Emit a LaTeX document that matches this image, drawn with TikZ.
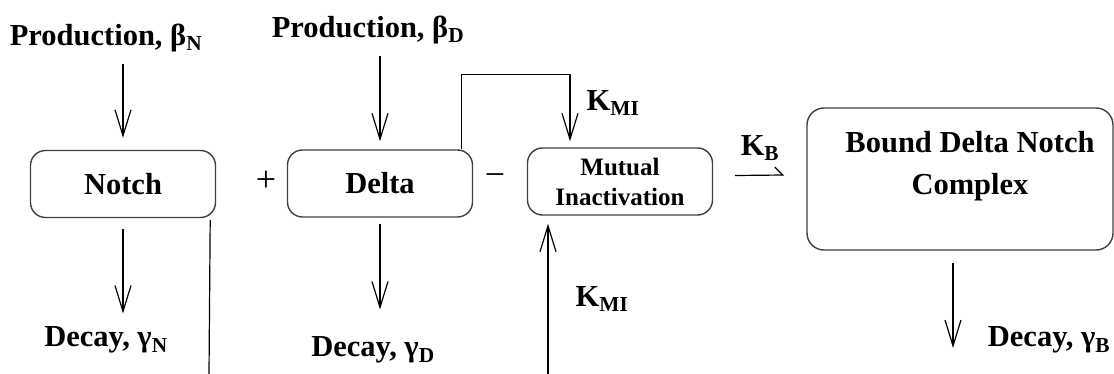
\documentclass[tikz,border=0pt]{standalone}
\usepackage{fontspec}
\setmainfont{Liberation Serif}
\usetikzlibrary{arrows.meta,calc}
\newcommand{\kmi}{K\textsubscript{MI}}

\begin{document}
\begin{tikzpicture}[x=1pt,y=-1pt]
                        \tikzstyle{lbl}=[inner sep=0pt, font=\fontsize{30.5}{42}\selectfont\bfseries]
                        \tikzstyle{sign}=[inner sep=0pt, font=\fontsize{36}{40}\selectfont]
                        \tikzstyle{box}=[draw=black!75, line width=1.4pt, rounded corners=15pt, minimum width=185pt, minimum height=67pt, inner sep=0pt, font=\fontsize{30.5}{42}\selectfont\bfseries]
                        \tikzstyle{arr}=[line width=1.2pt, -{Straight Barb[length=26pt,width=16pt]}]
                        \tikzstyle{harp}=[line width=1.2pt, -{Straight Barb[harpoon,length=8pt,width=16pt]}]
                        \tikzstyle{wire}=[line width=1.2pt]
                        \useasboundingbox (0,0) rectangle (1114,374);
                        \node[box] (notch) at (123,184) {Notch};
                        \node[box] (delta) at (380,183.5) {Delta};
                        \node[box, align=center, font=\fontsize{25}{30}\selectfont\bfseries] (mi) at (620,181.5) {Mutual\\Inactivation};
                        \node[box, minimum width=306pt, minimum height=142pt, rounded corners=17pt] (bound) at (960,179) {};
                        \node[lbl, align=center] (boundtxt) at (970,166) {Bound Delta Notch\\Complex};
                        \node[lbl] (prodN) at (106,38) {Production, β\textsubscript{N}};
                        \node[lbl] (prodD) at (368,30) {Production, β\textsubscript{D}};
                        \node[lbl] (decN) at (106,340) {Decay, γ\textsubscript{N}};
                        \node[lbl] (decD) at (373,350) {Decay, γ\textsubscript{D}};
                        \node[lbl] (decB) at (1049,340) {Decay, γ\textsubscript{B}};
                        \node[sign] (plus) at (266,181) {+};
                        \node[sign] (minus) at (495,180) {−};
                        \node[lbl] (kmiT) at (613,103) {\kmi};
                        \node[lbl] (kmiB) at (602,299) {\kmi};
                        \node[lbl] (kb) at (760,148) {K\textsubscript{B}};
                        \coordinate (nfoot) at (209,374);
                        \coordinate (mifoot) at (548,374);
                        \coordinate (bfoot) at (953,348);
                        \draw[arr, shorten <=12pt] (prodN.south -| notch.north) -- ([yshift=12pt]notch.north);
                        \draw[arr, shorten <=12pt] (prodD.south -| delta.north) -- ([yshift=8pt]delta.north);
                        \draw[arr, shorten >=13pt] ([yshift=-11pt]notch.south) -- (decN.north -| notch.south);
                        \draw[arr, shorten >=27pt] ([yshift=-6pt]delta.south) -- (decD.north -| delta.south);
                        \draw[arr] ([xshift=-7pt,yshift=-12pt]bound.south) -- (bfoot);
                        \draw[wire] ([xshift=-6pt,yshift=-2pt]notch.south east) -- (nfoot);
                        \draw[arr] (mifoot) -- ($(mifoot |- mi.south)+(0,8)$);
                        \draw[arr] ([xshift=-12pt]delta.north east) -- ++(0,-75) -| ([xshift=-50pt,yshift=6pt]mi.north);
                        \draw[harp] ([xshift=22pt,yshift=6pt]mi.east) -- ([xshift=-22pt,yshift=4pt]bound.west);
                    \end{tikzpicture}
\end{document}
